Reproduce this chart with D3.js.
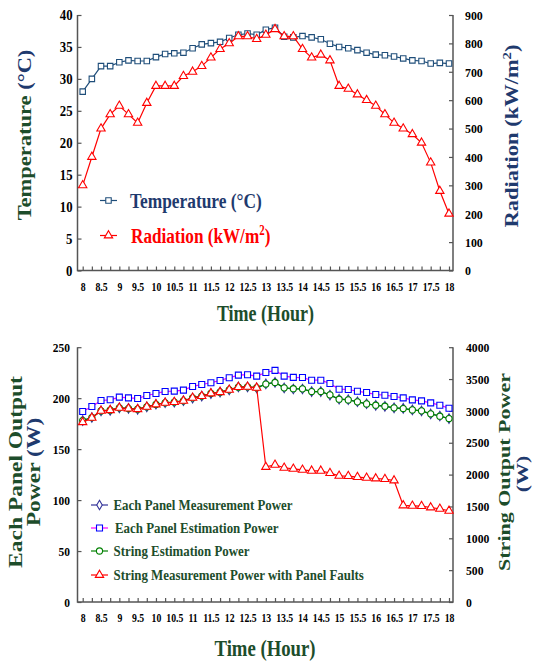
<!DOCTYPE html>
<html>
<head>
<meta charset="utf-8">
<script src="https://cdn.jsdelivr.net/npm/d3@7"></script>
<style>
body { margin: 0; background: #fff; }
text { font-family: "Liberation Serif", "Times New Roman", serif; font-weight: bold; }
</style>
</head>
<body>
<svg id="chart" width="533" height="663"></svg>
<script>
// time of day, one reading every quarter hour
var hours = [8, 8.25, 8.5, 8.75, 9, 9.25, 9.5, 9.75, 10, 10.25, 10.5, 10.75, 11, 11.25, 11.5, 11.75,
    12, 12.25, 12.5, 12.75, 13, 13.25, 13.5, 13.75, 14, 14.25, 14.5, 14.75, 15, 15.25, 15.5, 15.75,
    16, 16.25, 16.5, 16.75, 17, 17.25, 17.5, 17.75, 18];
var hourLabels = [8, 8.5, 9, 9.5, 10, 10.5, 11, 11.5, 12, 12.5, 13, 13.5, 14, 14.5, 15, 15.5, 16, 16.5, 17, 17.5, 18];

// top chart
var temperature = [28.0, 30.0, 32.0, 32.0, 32.6, 32.9, 32.8, 32.8, 33.4, 33.9, 34.0, 34.1, 34.8, 35.4, 35.6, 35.8,
    36.4, 36.9, 37.1, 36.9, 37.7, 38.0, 36.6, 36.5, 36.7, 36.5, 36.2, 35.5, 35.0, 34.8, 34.5, 34.1,
    33.8, 33.7, 33.5, 33.2, 32.9, 32.8, 32.4, 32.5, 32.4];
var radiation = [300, 400, 500, 550, 580, 550, 520, 590, 650, 650, 650, 685, 700, 720, 750, 780,
    800, 825, 825, 815, 830, 850, 825, 825, 780, 750, 760, 740, 650, 640, 620, 600,
    580, 550, 520, 500, 480, 450, 380, 280, 200];
var tempTicks = [0, 5, 10, 15, 20, 25, 30, 35, 40];
var radTicks = [0, 100, 200, 300, 400, 500, 600, 700, 800, 900];

// bottom chart (panel values in W on left axis, string values in W on right axis)
var panelMeasured = [178, 181, 187.5, 188, 190.5, 190, 189, 191.5, 194, 195.5, 196, 197.5, 200, 202, 204.5, 206,
    208, 211, 211, 210, 214, 215.5, 210, 209, 209, 206.5, 206.5, 203, 199, 198.5, 196.5, 194.5,
    193, 192, 190.5, 190, 188.5, 187.5, 184.5, 182.5, 180];
var panelEstimated = [186.9, 191.8, 197.7, 198.4, 201, 200.3, 199.7, 202.6, 204.6, 206.6, 206.9, 207.9, 211.5, 213.4, 215.1, 217.4,
    220, 222.6, 223, 221.6, 225.2, 227.3, 221.6, 220.4, 220.2, 217.6, 217.6, 214.4, 208.8, 208.5, 206.8, 205.5,
    203.6, 202.9, 201.6, 200.3, 198.3, 197.3, 195.4, 193.1, 190.1];
var stringEstimated = [2848, 2896, 3000, 3011, 3048, 3037, 3027, 3064, 3101, 3126, 3138, 3158, 3205, 3232, 3274, 3294,
    3331, 3373, 3378, 3363, 3421, 3446, 3362, 3349, 3346, 3304, 3304, 3252, 3184, 3173, 3142, 3110,
    3089, 3074, 3048, 3037, 3016, 3001, 2954, 2917, 2880];
var stringFaulty = [2822, 2891, 3000, 3011, 3048, 3037, 3027, 3064, 3101, 3126, 3138, 3158, 3205, 3232, 3274, 3294,
    3331, 3373, 3378, 3363, 2120, 2154, 2107, 2091, 2075, 2060, 2060, 2023, 1981, 1976, 1960, 1950,
    1939, 1929, 1908, 1516, 1510, 1505, 1484, 1463, 1432];
var panelTicks = [0, 50, 100, 150, 200, 250];
var stringTicks = [0, 500, 1000, 1500, 2000, 2500, 3000, 3500, 4000];

var GREEN = '#1d4d2b', NAVY = '#1f3a6e', AXIS = '#555';
var svg = d3.select('#chart');

var x = d3.scaleLinear().domain([8, 18]).range([82.7, 449]);
var axL = 77.5, axR = 453;
var plain = d3.format('d');

// ---- helpers ----
function hText(g, px, py, str, size, k, color, anchor) {
    return g.append('text')
        .attr('transform', 'translate(' + px + ',' + py + ') scale(' + k + ',1)')
        .attr('text-anchor', anchor || 'start')
        .style('font-size', size + 'px')
        .attr('fill', color || '#000')
        .text(str);
}

// rotated title built from coloured parts
function vTitle(px, py, parts, size, k) {
    var t = svg.append('text')
        .attr('transform', 'translate(' + px + ',' + py + ') scale(' + k + ',1) rotate(-90)')
        .attr('text-anchor', 'middle')
        .style('font-size', size + 'px');
    parts.forEach(function(p) {
        var s = t.append('tspan').attr('fill', p.c).text(p.t);
        if (p.sup) s.style('font-size', (size * 0.65) + 'px').attr('dy', -size * 0.38);
        if (p.dy) s.attr('dy', p.dy);
    });
    return t;
}

function squishTicks(g, k) {
    g.selectAll('.tick text').each(function() {
        var t = d3.select(this);
        var tx = +t.attr('x') || 0;
        t.attr('x', 0).attr('transform', 'translate(' + tx + ',0) scale(' + k + ',1)');
    });
}

function frame(yBottom, yTop) {
    svg.append('path')
        .attr('d', 'M' + axL + ',' + yTop + 'V' + yBottom + 'H' + axR + 'V' + yTop)
        .attr('fill', 'none').attr('stroke', AXIS).attr('stroke-width', 1.5);
}

function styleAxis(g) {
    g.select('.domain').remove();
    g.selectAll('.tick line').attr('stroke', AXIS).attr('stroke-width', 1.2);
    g.selectAll('.tick text').attr('fill', '#000');
}

function xAxis(yPos) {
    var g = svg.append('g').attr('transform', 'translate(0,' + yPos + ')')
        .call(d3.axisBottom(x).tickValues(hours).tickSizeInner(-4).tickSizeOuter(0).tickPadding(11.6)
            .tickFormat(function(d) { return hourLabels.indexOf(d) > -1 ? String(d) : ''; }));
    styleAxis(g);
    g.selectAll('.tick text').style('font-size', '12.5px');
    squishTicks(g, 0.78);
}

function series(g, vals, ys, lineColor, shape, markColor, size, fill) {
    var line = d3.line().x(function(d, i) { return x(hours[i]); }).y(function(d) { return ys(d); });
    g.append('path').datum(vals).attr('d', line)
        .attr('fill', 'none').attr('stroke', lineColor).attr('stroke-width', 1.2);
    var sym = d3.symbol().type(shape).size(size);
    g.selectAll(null).data(vals).enter().append('path')
        .attr('d', sym)
        .attr('transform', function(d, i) { return 'translate(' + x(hours[i]) + ',' + ys(d) + ')'; })
        .attr('fill', fill || '#fff').attr('stroke', markColor).attr('stroke-width', 1.1);
}

function legendItem(g, x0, x1, yy, lineColor, shape, markColor, size, label, textX, fontSize, k, textColor) {
    g.append('line').attr('x1', x0).attr('x2', x1).attr('y1', yy).attr('y2', yy)
        .attr('stroke', lineColor).attr('stroke-width', 1.2);
    g.append('path').attr('d', d3.symbol().type(shape).size(size))
        .attr('transform', 'translate(' + ((x0 + x1) / 2) + ',' + yy + ')')
        .attr('fill', '#fff').attr('stroke', markColor).attr('stroke-width', 1.1);
    return hText(g, textX, yy + fontSize * 0.33, label, fontSize, k, textColor);
}

// ================= TOP CHART =================
var yT = d3.scaleLinear().domain([0, 40]).range([270.5, 15]);
var yRad = d3.scaleLinear().domain([0, 900]).range([270.5, 15]);

frame(270.5, 15);

var gTL = svg.append('g').attr('transform', 'translate(' + axL + ',0)')
    .call(d3.axisLeft(yT).tickValues(tempTicks).tickFormat(plain).tickSizeInner(-4).tickSizeOuter(0).tickPadding(5));
styleAxis(gTL);
gTL.selectAll('.tick text').style('font-size', '14.5px');
squishTicks(gTL, 0.88);

var gTR = svg.append('g').attr('transform', 'translate(' + axR + ',0)')
    .call(d3.axisRight(yRad).tickValues(radTicks).tickFormat(plain).tickSizeInner(-4).tickSizeOuter(0).tickPadding(12));
styleAxis(gTR);
gTR.selectAll('.tick text').style('font-size', '13.5px');
squishTicks(gTR, 0.88);

xAxis(270.5);

var gTop = svg.append('g');
series(gTop, temperature, yT, '#1f4e7a', d3.symbolSquare, '#1f4e7a', 30);
series(gTop, radiation, yRad, '#ff0000', d3.symbolTriangle, '#ff0000', 30);

var legTop = svg.append('g');
legendItem(legTop, 100, 117, 200.5, '#1f4e7a', d3.symbolSquare, '#1f4e7a', 30, 'Temperature (°C)', 130, 22, 0.79, NAVY);
var radLab = legendItem(legTop, 100, 117, 235.5, '#ff0000', d3.symbolTriangle, '#ff0000', 30, 'Radiation (kW/m', 131, 22, 0.78, '#ff0000');
radLab.append('tspan').style('font-size', '14px').attr('dy', -8).text('2');
radLab.append('tspan').attr('dy', 8).text(')');

hText(svg, 265.5, 321, 'Time (Hour)', 24, 0.75, GREEN, 'middle');

vTitle(31, 135, [{t: 'Temperature ', c: GREEN}, {t: '(°C)', c: NAVY}], 22.5, 0.8);
vTitle(518, 136, [{t: 'Radiation (kW/m', c: NAVY}, {t: '2', c: NAVY, sup: true}, {t: ')', c: NAVY, dy: 22.5 * 0.38}], 22.5, 0.84);

// ================= BOTTOM CHART =================
var yP = d3.scaleLinear().domain([0, 250]).range([602, 347.2]);
var yS = d3.scaleLinear().domain([0, 4000]).range([602, 347.2]);

frame(602, 347.2);

var gBL = svg.append('g').attr('transform', 'translate(' + axL + ',0)')
    .call(d3.axisLeft(yP).tickValues(panelTicks).tickFormat(plain).tickSizeInner(-4).tickSizeOuter(0).tickPadding(7.5));
styleAxis(gBL);
gBL.selectAll('.tick text').style('font-size', '13.5px');
squishTicks(gBL, 0.85);

var gBR = svg.append('g').attr('transform', 'translate(' + axR + ',0)')
    .call(d3.axisRight(yS).tickValues(stringTicks).tickFormat(plain).tickSizeInner(-4).tickSizeOuter(0).tickPadding(13));
styleAxis(gBR);
gBR.selectAll('.tick text').style('font-size', '13px');
squishTicks(gBR, 0.9);

xAxis(602);

var gBot = svg.append('g');
series(gBot, panelMeasured, yP, '#333399', d3.symbolDiamond, '#333399', 26);
series(gBot, panelEstimated, yP, '#ff00ff', d3.symbolSquare, '#0000ff', 36);
series(gBot, stringEstimated, yS, '#008000', d3.symbolCircle, '#008000', 30);
series(gBot, stringFaulty, yS, '#ff0000', d3.symbolTriangle, '#ff0000', 30);

var legBot = svg.append('g');
legendItem(legBot, 91, 108, 505, '#333399', d3.symbolDiamond, '#333399', 26, 'Each Panel Measurement Power', 113.5, 15, 0.86, GREEN);
legendItem(legBot, 91, 108, 528, '#ff00ff', d3.symbolSquare, '#0000ff', 36, 'Each Panel Estimation Power', 115, 15, 0.86, GREEN);
legendItem(legBot, 91, 108, 551, '#008000', d3.symbolCircle, '#008000', 30, 'String Estimation Power', 113.5, 15, 0.86, GREEN);
legendItem(legBot, 91, 108, 575, '#ff0000', d3.symbolTriangle, '#ff0000', 30, 'String Measurement Power with Panel Faults', 113.5, 15, 0.86, GREEN);

hText(svg, 265, 656, 'Time (Hour)', 24, 0.78, GREEN, 'middle');

vTitle(22, 472, [{t: 'Each Panel Output', c: GREEN}], 23.5, 0.8);
vTitle(40, 472, [{t: 'Power ', c: GREEN}, {t: '(W)', c: NAVY}], 23.5, 0.8);
vTitle(509.5, 472, [{t: 'String Output Power', c: GREEN}], 22, 0.8);
vTitle(528, 474, [{t: '(W)', c: NAVY}], 22, 0.8);
</script>
</body>
</html>
